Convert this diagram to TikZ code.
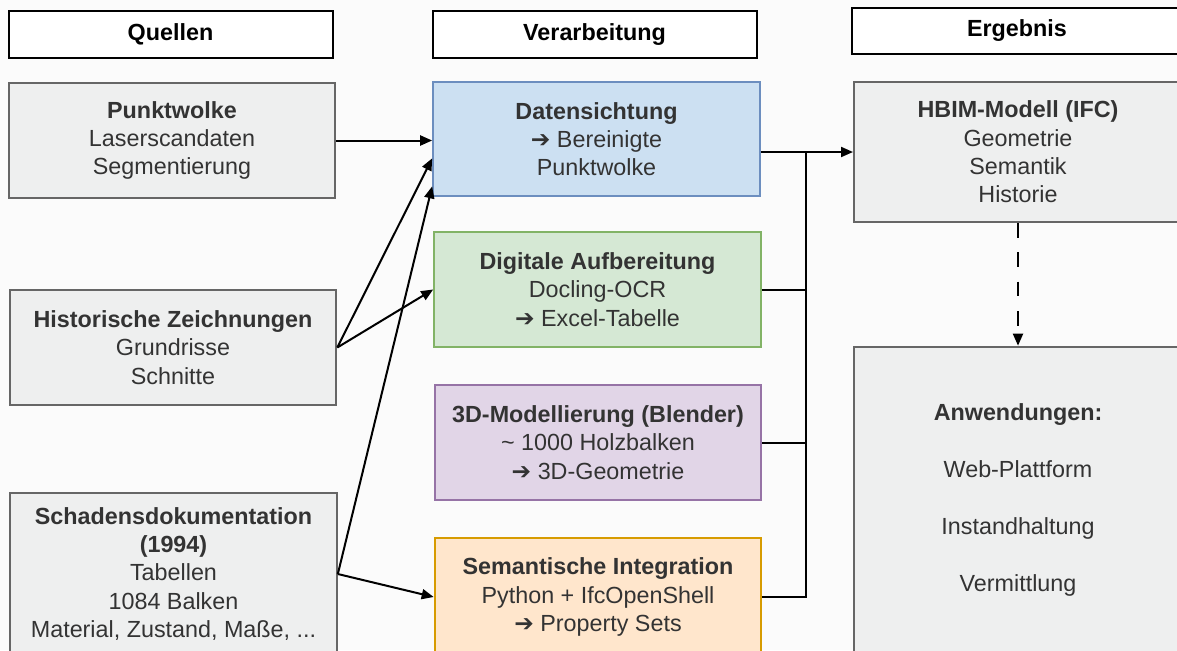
\documentclass[tikz,border=0pt]{standalone}
\usepackage{fontspec}
\setmainfont{Liberation Sans}
\newfontfamily\symfont{DejaVu Sans}
\usetikzlibrary{arrows.meta}
\definecolor{bgcol}{RGB}{251,251,251}
\definecolor{txtcol}{RGB}{51,51,51}
\definecolor{grayfill}{RGB}{238,239,239}
\definecolor{grayline}{RGB}{102,102,102}
\definecolor{bluefill}{RGB}{204,224,242}
\definecolor{blueline}{RGB}{108,142,191}
\definecolor{greenfill}{RGB}{213,232,212}
\definecolor{greenline}{RGB}{130,179,102}
\definecolor{purplefill}{RGB}{225,213,231}
\definecolor{purpleline}{RGB}{150,115,166}
\definecolor{orangefill}{RGB}{255,230,204}
\definecolor{orangeline}{RGB}{215,155,0}
\newcommand{\ra}{{\symfont ➔}}
\begin{document}
\begin{tikzpicture}[
			x=0.75pt, y=-0.75pt,
			font=\fontsize{17.5}{21.2}\selectfont,
			>={Triangle[length=9pt,width=7.5pt]},
			head/.style={draw=black, line width=1.5pt, fill=white, font=\fontsize{17.5}{21.2}\selectfont\bfseries,
					minimum width=243pt, minimum height=35pt, inner sep=0pt},
			box/.style={draw=grayline, line width=1.5pt, fill=grayfill, text=txtcol, align=center,
					minimum width=245pt, minimum height=86pt, inner sep=0pt},
			blue/.style={box, draw=blueline, fill=bluefill},
			green/.style={box, draw=greenline, fill=greenfill},
			purple/.style={box, draw=purpleline, fill=purplefill},
			orange/.style={box, draw=orangeline, fill=orangefill},
			link/.style={line width=1.5pt, black}
		]
		\clip (0,0) rectangle (1177,650);
		\fill[bgcol] (0,0) rectangle (1177,650);

		\node[head] (quellen) at (170.5,34.5) {Quellen};
		\node[head] (verarb) at (594.5,34.5) {Verarbeitung};
		\node[head, minimum width=248pt] (ergebnis) at (1017,31) {Ergebnis};

		\node[box] (punkt) at (172,140.5) {\textbf{Punktwolke}\\Laserscandaten\\Segmentierung};
		\node[box] (hist) at (173,347.5) {\textbf{Historische Zeichnungen}\\Grundrisse\\Schnitte};
		\node[box, minimum height=122pt] (schaden) at (173.5,574)
			{\textbf{Schadensdokumentation}\\\textbf{(1994)}\\Tabellen\\1084 Balken\\Material, Zustand, Maße, ...};

		\node[blue] (daten) at (596.5,139) {\textbf{Datensichtung}\\\ra{} Bereinigte\\Punktwolke};
		\node[green] (digi) at (597.5,289.5) {\textbf{Digitale Aufbereitung}\\Docling-OCR\\\ra{} Excel-Tabelle};
		\node[purple] (modell) at (598,442.5) {\textbf{3D-Modellierung (Blender)}\\\textasciitilde{} 1000 Holzbalken\\\ra{} 3D-Geometrie};
		\node[orange, minimum height=89pt] (semantik) at (598,597)
			{\textbf{Semantische Integration}\\Python + IfcOpenShell\\\ra{} Property Sets};

		\node[box, minimum width=246pt, minimum height=105pt] (hbim) at (1018,152)
			{\textbf{HBIM-Modell (IFC)}\\Geometrie\\Semantik\\Historie};
		\node[box, minimum width=246pt, minimum height=230pt] (anw) at (1018,500)
			{\textbf{Anwendungen:}\\[21.5pt]Web-Plattform\\[21.5pt]Instandhaltung\\[21.5pt]Vermittlung};

		\coordinate (bus) at (806,152);

		\draw[link, ->] (punkt.east) -- (punkt.east -| daten.west);
		\draw[link, ->] (hist.east) -- ([shift={(0,-39)}]daten.south west);
		\draw[link, ->] (hist.east) -- (digi.west);
		\draw[link, ->] (schaden.east) -- ([shift={(0,-11)}]daten.south west);
		\draw[link, ->] (schaden.east) -- (semantik.west);

		\draw[link, ->] (daten.east |- hbim.west) -- (hbim.west);
		\draw[link] (digi.east) -| (bus);
		\draw[link] (modell.east) -| (bus);
		\draw[link] (semantik.east) -| (bus);

		\draw[link, ->, dash pattern=on 11pt off 11pt] (hbim.south) -- (anw.north);
	\end{tikzpicture}
\end{document}
